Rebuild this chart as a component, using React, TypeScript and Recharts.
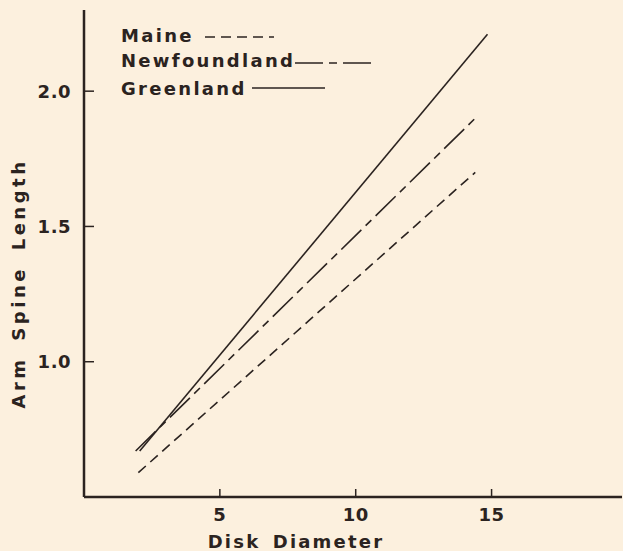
import React from "react";
import { LineChart, Line, XAxis, YAxis, Legend } from "recharts";

// Disk diameter (x) and arm spine length (y) for each regression line
const maineX = [2.0, 14.4];
const maineY = [0.59, 1.7];
const newfoundlandX = [1.9, 14.4];
const newfoundlandY = [0.67, 1.9];
const greenlandX = [2.05, 14.85];
const greenlandY = [0.67, 2.21];

const xTicks = [5, 10, 15];
const yTicks = [1.0, 1.5, 2.0];
const xDomain = [0, 19.8];
const yDomain = [0.5, 2.3];

const toPoints = (xs: number[], ys: number[]) => xs.map((x, i) => ({ x, y: ys[i] }));

const INK = "#2b2320";
const BG = "#fcf0de";
const FONT = "'DejaVu Sans', sans-serif";

const series = [
  { name: "Maine", data: toPoints(maineX, maineY), dash: "10 6" },
  { name: "Newfoundland", data: toPoints(newfoundlandX, newfoundlandY), dash: "28 6 8 6" },
  { name: "Greenland", data: toPoints(greenlandX, greenlandY), dash: undefined as string | undefined },
];

// legend layout (style only)
const legendRows = [
  { textY: 42, lineY: 37, lineX1: 205, lineX2: 274 },
  { textY: 67, lineY: 63, lineX1: 295, lineX2: 372 },
  { textY: 95, lineY: 88, lineX1: 252, lineX2: 325 },
];

const YTick = (props: any) => {
  const { x, y, payload } = props;
  return (
    <g>
      <line x1={x} x2={x + 10} y1={y} y2={y} stroke={INK} strokeWidth={1.5} />
      <text
        x={x - 13}
        y={y + 6.5}
        textAnchor="end"
        fontFamily={FONT}
        fontWeight="bold"
        fontSize={18}
        letterSpacing={0.5}
        fill={INK}
      >
        {Number(payload.value).toFixed(1)}
      </text>
    </g>
  );
};

const XTick = (props: any) => {
  const { x, y, payload } = props;
  return (
    <g>
      <line x1={x} x2={x} y1={y} y2={y - 8} stroke={INK} strokeWidth={1.5} />
      <text
        x={x}
        y={y + 24}
        textAnchor="middle"
        fontFamily={FONT}
        fontWeight="bold"
        fontSize={18}
        letterSpacing={0.5}
        fill={INK}
      >
        {payload.value}
      </text>
    </g>
  );
};

const XLabel = (props: any) => {
  const vb = props.viewBox || { x: 0, y: 0 };
  return (
    <text
      x={vb.x + 212}
      y={vb.y + 51}
      textAnchor="middle"
      fontFamily={FONT}
      fontWeight="bold"
      fontSize={18}
      letterSpacing={2.2}
      wordSpacing={4}
      fill={INK}
    >
      Disk Diameter
    </text>
  );
};

const YLabel = (props: any) => {
  const vb = props.viewBox || { x: 0, y: 0, height: 0 };
  const cx = vb.x + 1;
  const cy = vb.y + vb.height / 2 + 30;
  return (
    <text
      x={cx}
      y={cy}
      transform={`rotate(-90 ${cx} ${cy})`}
      textAnchor="middle"
      fontFamily={FONT}
      fontWeight="bold"
      fontSize={18}
      letterSpacing={3.5}
      wordSpacing={6}
      fill={INK}
    >
      Arm Spine Length
    </text>
  );
};

const LegendContent = () => (
  <svg width={400} height={110} style={{ display: "block" }}>
    {series.map((s, i) => {
      const r = legendRows[i];
      return (
        <g key={s.name}>
          <text
            x={121}
            y={r.textY}
            fontFamily={FONT}
            fontWeight="bold"
            fontSize={18}
            letterSpacing={2.3}
            fill={INK}
          >
            {s.name}
          </text>
          <line
            x1={r.lineX1}
            x2={r.lineX2}
            y1={r.lineY}
            y2={r.lineY}
            stroke={INK}
            strokeWidth={1.6}
            strokeDasharray={s.dash}
          />
        </g>
      );
    })}
  </svg>
);

export default function App() {
  return (
    <div
      style={{
        position: "absolute",
        left: 0,
        top: 0,
        width: 623,
        height: 551,
        background: BG,
        overflow: "hidden",
      }}
    >
      <LineChart
        width={623}
        height={551}
        margin={{ top: 10, right: 1, bottom: 24, left: 24 }}
      >
        <XAxis
          type="number"
          dataKey="x"
          domain={xDomain}
          ticks={xTicks}
          allowDataOverflow
          height={30}
          tickSize={0}
          tickMargin={0}
          tickLine={false}
          axisLine={{ stroke: INK, strokeWidth: 2.5 }}
          tick={<XTick />}
          label={<XLabel />}
        />
        <YAxis
          type="number"
          dataKey="y"
          domain={yDomain}
          ticks={yTicks}
          allowDataOverflow
          width={60}
          tickSize={0}
          tickMargin={0}
          tickLine={false}
          axisLine={{ stroke: INK, strokeWidth: 2.5 }}
          tick={<YTick />}
          label={<YLabel />}
        />
        <Legend
          verticalAlign="middle"
          align="center"
          layout="horizontal"
          content={<LegendContent />}
          wrapperStyle={{ position: "absolute", left: 0, top: 0, width: 400, height: 110 }}
        />
        {series.map((s) => (
          <Line
            key={s.name}
            name={s.name}
            data={s.data}
            dataKey="y"
            type="linear"
            stroke={INK}
            strokeWidth={1.6}
            strokeDasharray={s.dash}
            dot={false}
            activeDot={false}
            isAnimationActive={false}
          />
        ))}
      </LineChart>
    </div>
  );
}
